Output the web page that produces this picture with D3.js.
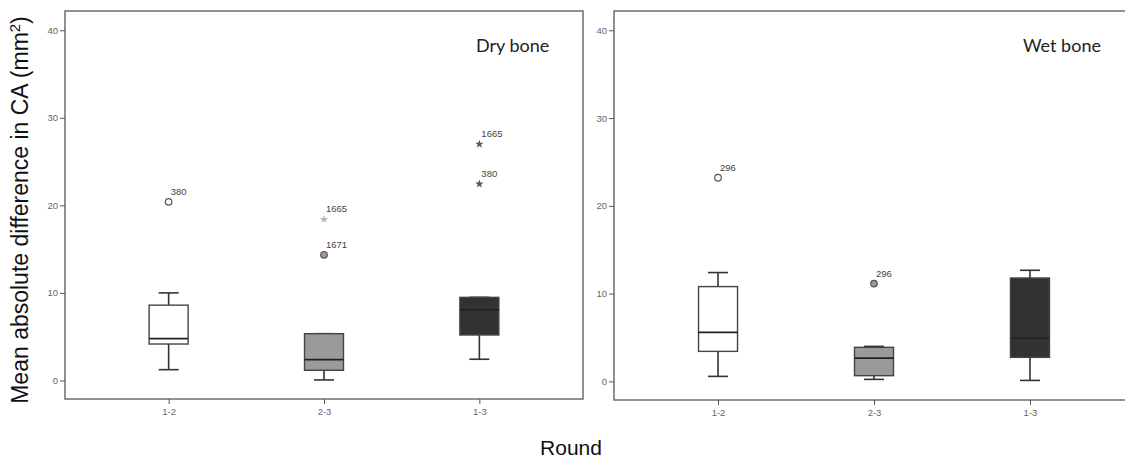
<!DOCTYPE html>
<html>
<head>
<meta charset="utf-8">
<script src="https://cdn.jsdelivr.net/npm/d3@7"></script>
<style>
  body { margin: 0; background: #fff; }
  svg { display: block; }
</style>
</head>
<body>
<div id="chart"></div>
<script>
// Data
const rounds = ["1-2", "2-3", "1-3"];
const yTicks = [0, 10, 20, 30, 40];
const boxFills = ["#ffffff", "#9a9a9a", "#323232"];

// Dry bone
const dryLow = [1.23, 0.06, 2.42];
const dryQ1 = [4.16, 1.16, 5.19];
const dryMedian = [4.77, 2.37, 8.07];
const dryQ3 = [8.6, 5.34, 9.49];
const dryHigh = [10.0, 5.34, 9.49];
const dryOutliers = [
  { round: "1-2", value: 20.4, label: "380", shape: "circle" },
  { round: "2-3", value: 18.4, label: "1665", shape: "star" },
  { round: "2-3", value: 14.35, label: "1671", shape: "circle" },
  { round: "1-3", value: 27.0, label: "1665", shape: "star" },
  { round: "1-3", value: 22.44, label: "380", shape: "star" }
];

// Wet bone
const wetLow = [0.57, 0.23, 0.11];
const wetQ1 = [3.42, 0.65, 2.74];
const wetMedian = [5.59, 2.66, 4.94];
const wetQ3 = [10.8, 3.88, 11.78];
const wetHigh = [12.4, 3.99, 12.66];
const wetOutliers = [
  { round: "1-2", value: 23.2, label: "296", shape: "circle" },
  { round: "2-3", value: 11.14, label: "296", shape: "circle" }
];

const svg = d3.select("#chart")
  .append("svg")
  .attr("width", 1125)
  .attr("height", 460);

function drawPanel(p) {
  const g = svg.append("g");
  const x = d3.scalePoint().domain(rounds).range([p.left, p.right]).padding(0.667);
  const y = d3.scaleLinear().domain([-2.12, 42.2]).range([p.bottom, p.top]);

  // frame
  g.append("rect")
    .attr("x", p.left).attr("y", p.top)
    .attr("width", p.right - p.left).attr("height", p.bottom - p.top)
    .attr("fill", "none").attr("stroke", "#6e6e6e").attr("stroke-width", 1.5);

  // y axis
  const yAxis = g.append("g")
    .attr("transform", "translate(" + p.left + ",0)")
    .call(d3.axisLeft(y).tickValues(yTicks).tickSize(5).tickPadding(2));
  yAxis.select(".domain").remove();
  yAxis.selectAll("line").attr("stroke", "#555");
  yAxis.selectAll("text").attr("fill", "#666").style("font", "9.5px 'Liberation Sans', Arial, sans-serif");

  // x axis
  const xAxis = g.append("g")
    .attr("transform", "translate(0," + p.bottom + ")")
    .call(d3.axisBottom(x).tickSize(5).tickPadding(4));
  xAxis.select(".domain").remove();
  xAxis.selectAll("line").attr("stroke", "#555");
  xAxis.selectAll("text").attr("fill", "#666").style("font", "9.5px 'Liberation Sans', Arial, sans-serif");

  const boxW = 39, capW = 20;
  rounds.forEach(function (r, i) {
    const cx = x(r);
    const bg = g.append("g");
    // whiskers
    bg.append("line")
      .attr("x1", cx).attr("x2", cx)
      .attr("y1", y(p.high[i])).attr("y2", y(p.q3[i]))
      .attr("stroke", "#333").attr("stroke-width", 1.6);
    bg.append("line")
      .attr("x1", cx).attr("x2", cx)
      .attr("y1", y(p.q1[i])).attr("y2", y(p.low[i]))
      .attr("stroke", "#333").attr("stroke-width", 1.6);
    [p.high[i], p.low[i]].forEach(function (v) {
      bg.append("line")
        .attr("x1", cx - capW / 2).attr("x2", cx + capW / 2)
        .attr("y1", y(v)).attr("y2", y(v))
        .attr("stroke", "#333").attr("stroke-width", 1.6);
    });
    // box
    bg.append("rect")
      .attr("x", cx - boxW / 2).attr("width", boxW)
      .attr("y", y(p.q3[i])).attr("height", y(p.q1[i]) - y(p.q3[i]))
      .attr("fill", boxFills[i]).attr("stroke", "#444").attr("stroke-width", 1.4);
    // median
    bg.append("line")
      .attr("x1", cx - boxW / 2).attr("x2", cx + boxW / 2)
      .attr("y1", y(p.median[i])).attr("y2", y(p.median[i]))
      .attr("stroke", "#222").attr("stroke-width", 1.8);
  });

  // outliers
  p.outliers.forEach(function (o) {
    const i = rounds.indexOf(o.round);
    const cx = x(o.round), cy = y(o.value);
    if (o.shape === "circle") {
      g.append("circle")
        .attr("cx", cx).attr("cy", cy).attr("r", 3.3)
        .attr("fill", boxFills[i]).attr("stroke", "#555").attr("stroke-width", 1.2);
    } else {
      g.append("path")
        .attr("transform", "translate(" + cx + "," + cy + ")")
        .attr("d", d3.symbol().type(d3.symbolStar).size(22)())
        .attr("fill", i === 1 ? "#b5b5b5" : "#555");
    }
    g.append("text")
      .attr("x", cx + 2).attr("y", cy - 7)
      .attr("fill", "#444")
      .style("font", "9.5px 'Liberation Sans', Arial, sans-serif")
      .text(o.label);
  });

  // panel label
  g.append("text")
    .attr("x", p.labelX).attr("y", 52)
    .attr("fill", "#222")
    .style("font", "18px Lato, 'Open Sans', sans-serif")
    .text(p.title);
}

drawPanel({
  left: 65, right: 583, top: 11, bottom: 399,
  low: dryLow, q1: dryQ1, median: dryMedian, q3: dryQ3, high: dryHigh,
  outliers: dryOutliers, title: "Dry bone", labelX: 476
});

drawPanel({
  left: 614, right: 1134, top: 11, bottom: 400,
  low: wetLow, q1: wetQ1, median: wetMedian, q3: wetQ3, high: wetHigh,
  outliers: wetOutliers, title: "Wet bone", labelX: 1023
});

// axis titles
svg.append("text")
  .attr("transform", "translate(28,210) rotate(-90)")
  .attr("text-anchor", "middle")
  .attr("fill", "#111")
  .style("font", "23px 'Liberation Sans', Arial, sans-serif")
  .html("Mean absolute difference in  CA (mm<tspan dy='-8' font-size='15'>2</tspan><tspan dy='8'>)</tspan>");

svg.append("text")
  .attr("x", 571).attr("y", 455)
  .attr("text-anchor", "middle")
  .attr("fill", "#111")
  .style("font", "21px 'Liberation Sans', Arial, sans-serif")
  .text("Round");
</script>
</body>
</html>
